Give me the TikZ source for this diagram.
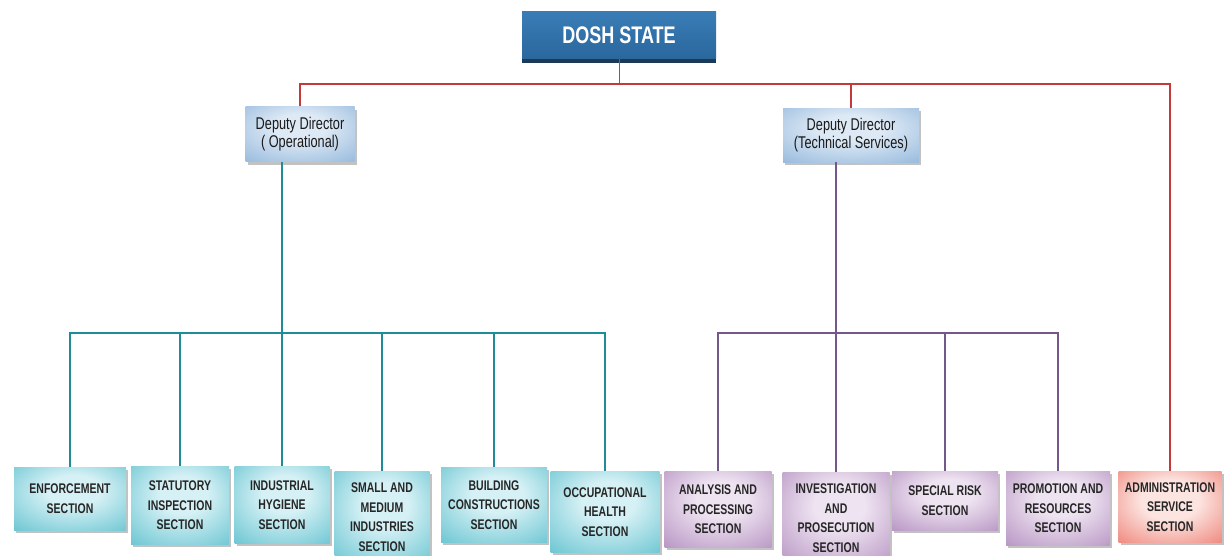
\documentclass[tikz,border=0pt]{standalone}
\usepackage{fontspec}
\setmainfont{Liberation Sans}[FakeStretch=0.75]
\usepackage{xcolor}
\usepackage{tikz}
\usetikzlibrary{shadows}

\definecolor{doshblue}{HTML}{2A679D}
\definecolor{doshtop}{HTML}{3A7DB6}
\definecolor{doshdark}{HTML}{1C3A57}
\definecolor{dirin}{HTML}{DDE9F5}
\definecolor{dirout}{HTML}{94B8DC}
\definecolor{tealin}{HTML}{D6F1F5}
\definecolor{tealout}{HTML}{68C4D1}
\definecolor{tealline}{HTML}{1E8C99}
\definecolor{purpin}{HTML}{EEE3F1}
\definecolor{purpout}{HTML}{B693C2}
\definecolor{purpline}{HTML}{74588A}
\definecolor{redin}{HTML}{FCE4E0}
\definecolor{redout}{HTML}{EE8277}
\definecolor{redline}{HTML}{C23A3A}

% soft glow fills for the boxes
\pgfdeclareradialshading{dirglow}{\pgfpoint{0bp}{8bp}}{color(0bp)=(dirin); color(12bp)=(dirin); color(40bp)=(dirout); color(70bp)=(dirout)}
\pgfdeclareradialshading{tealglow}{\pgfpoint{2bp}{8bp}}{color(0bp)=(tealin); color(12bp)=(tealin); color(40bp)=(tealout); color(70bp)=(tealout)}
\pgfdeclareradialshading{purpglow}{\pgfpoint{2bp}{8bp}}{color(0bp)=(purpin); color(12bp)=(purpin); color(40bp)=(purpout); color(70bp)=(purpout)}
\pgfdeclareradialshading{redglow}{\pgfpoint{0bp}{6bp}}{color(0bp)=(redin); color(14bp)=(redin); color(40bp)=(redout); color(70bp)=(redout)}

\begin{document}
\begin{tikzpicture}[x=1pt, y=-1pt]
\tikzstyle{section} = [rectangle, align=center, inner sep=2pt, anchor=north,
    font=\fontsize{14}{19.5}\selectfont\bfseries, text=black!85,
    drop shadow={shadow xshift=2pt, shadow yshift=-3pt, opacity=0.4, fill=black!60}]
\tikzstyle{opsec} = [section, shading=tealglow]
\tikzstyle{techsec} = [section, shading=purpglow]
\tikzstyle{adminsec} = [section, shading=redglow]
\tikzstyle{director} = [rectangle, align=center, shading=dirglow,
    font=\fontsize{17}{18.5}\selectfont, text=black!90,
    drop shadow={shadow xshift=2pt, shadow yshift=-3pt, opacity=0.4, fill=black!60}]
\tikzstyle{redwire} = [draw=redline, line width=2.2pt]
\tikzstyle{tealwire} = [draw=tealline, line width=1.8pt]
\tikzstyle{purpwire} = [draw=purpline, line width=1.8pt]

\useasboundingbox (0,0) rectangle (1224,555);

% Nodes
\node [rectangle, top color=doshtop, bottom color=doshblue, text=white,
    minimum width=194, minimum height=47, font=\fontsize{24}{26}\selectfont\bfseries,
    drop shadow={shadow xshift=0pt, shadow yshift=-4pt, opacity=1, fill=doshdark}]
    (dosh) at (619,35) {DOSH STATE};

\node [director, minimum width=109, minimum height=55] (depop) at (300,134)
    {Deputy Director\\( Operational)};
\node [director, minimum width=136, minimum height=54] (deptech) at (851,135)
    {Deputy Director\\(Technical Services)};

\node [opsec, minimum width=112, minimum height=63] (enforce) at (70,467) {ENFORCEMENT\\SECTION};
\node [opsec, minimum width=98, minimum height=78] (statutory) at (180,466) {STATUTORY\\INSPECTION\\SECTION};
\node [opsec, minimum width=95, minimum height=77] (indhyg) at (282,466) {INDUSTRIAL\\HYGIENE\\SECTION};
\node [opsec, minimum width=95, minimum height=92] (smallmed) at (382,471) {SMALL AND\\MEDIUM\\INDUSTRIES\\SECTION};
\node [opsec, minimum width=106, minimum height=75] (building) at (494,467) {BUILDING\\CONSTRUCTIONS\\SECTION};
\node [opsec, minimum width=109, minimum height=81] (occhealth) at (605,471) {OCCUPATIONAL\\HEALTH\\SECTION};

\node [techsec, minimum width=107, minimum height=76] (analysis) at (718,471) {ANALYSIS AND\\PROCESSING\\SECTION};
\node [techsec, minimum width=107, minimum height=92] (investig) at (836,472) {INVESTIGATION\\AND\\PROSECUTION\\SECTION};
\node [techsec, minimum width=106, minimum height=59] (special) at (945,471) {SPECIAL RISK\\SECTION};
\node [techsec, minimum width=104, minimum height=74] (promotion) at (1058,471) {PROMOTION AND\\RESOURCES\\SECTION};

\node [adminsec, minimum width=103, minimum height=71] (admin) at (1170,471) {ADMINISTRATION\\SERVICE\\SECTION};

% Lines
\coordinate (topbus) at (0,84);
\coordinate (lowbus) at (0,333);

\draw [black!60, line width=0.8pt] (dosh.south) -- (dosh.south |- topbus);
\draw [redwire] (depop.north) |- (admin.north |- topbus) -- (admin.north);
\draw [redwire] (deptech.north) -- (deptech.north |- topbus);

\draw [tealwire] (depop.south -| indhyg.north) -- (indhyg.north |- lowbus);
\draw [tealwire] (enforce.north) |- (occhealth.north |- lowbus) -- (occhealth.north);
\foreach \sec in {statutory, indhyg, smallmed, building}
    \draw [tealwire] (\sec.north) -- (\sec.north |- lowbus);

\draw [purpwire] (deptech.south -| investig.north) -- (investig.north |- lowbus);
\draw [purpwire] (analysis.north) |- (promotion.north |- lowbus) -- (promotion.north);
\foreach \sec in {investig, special}
    \draw [purpwire] (\sec.north) -- (\sec.north |- lowbus);
\end{tikzpicture}
\end{document}
